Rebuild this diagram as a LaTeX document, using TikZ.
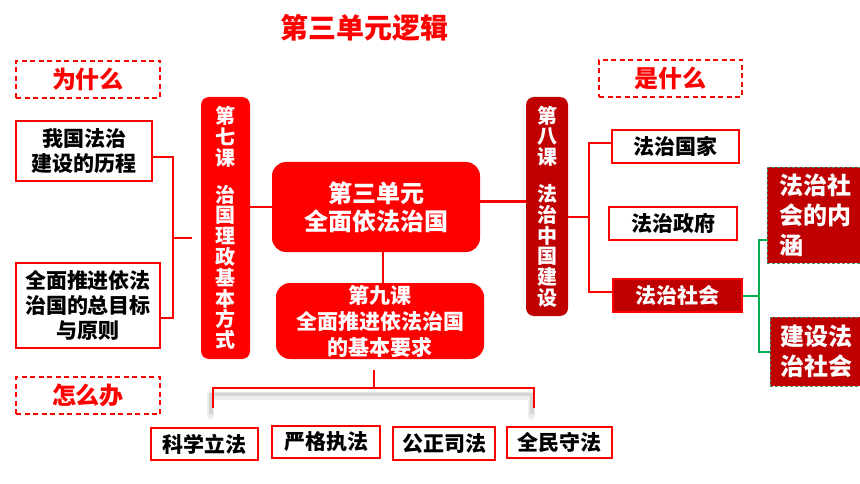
\documentclass[tikz,border=0pt]{standalone}
\usepackage{fontspec}
\newfontfamily\cjk[BoldFont={Noto Sans CJK SC Black}]{Noto Sans CJK SC}
\usetikzlibrary{positioning}
\definecolor{hong}{HTML}{FF0000}
\definecolor{shenhong}{HTML}{C00000}
\definecolor{lv}{HTML}{00B050}
\tikzset{
  kuang/.style={draw=hong, line width=2pt, fill=white, inner sep=0pt, align=center,
    font=\cjk\bfseries\fontsize{21}{25}\selectfont},
  xuxian/.style={draw=hong, line width=2pt, dash pattern=on 5pt off 3.5pt, inner sep=0pt,
    text=hong, font=\cjk\bfseries\fontsize{24}{28}\selectfont},
  ke/.style={fill=hong, rounded corners=8pt, inner sep=0pt, text=white, align=center,
    font=\cjk\bfseries\fontsize{20}{20.8}\selectfont},
  dan/.style={fill=hong, rounded corners=14pt, inner sep=0pt, text=white, align=center},
  xian/.style={draw=hong, line width=2.5pt},
  lvxian/.style={draw=lv, line width=2pt},
  nei/.style={fill=shenhong, draw=lv!40!gray, densely dashed, line width=0.6pt, inner sep=0pt,
    text=white, align=left, font=\cjk\bfseries\fontsize{24}{30}\selectfont}
}

\begin{document}
\begin{tikzpicture}[x=1pt,y=-1pt]
    \fill[white] (0,0) rectangle (860,484);
    \useasboundingbox (0,0) rectangle (860,484);

    \node[text=hong, font=\cjk\bfseries\fontsize{28}{30}\selectfont] (biaoti) at (364,28) {第三单元逻辑};
    \node[xuxian, minimum width=144pt, minimum height=37pt] (weishenme) at (88,79.5) {为什么};
    \node[xuxian, minimum width=143pt, minimum height=37pt] (shishenme) at (670.5,78.5) {是什么};
    \node[xuxian, minimum width=144pt, minimum height=37pt] (zenmeban) at (88,395.5) {怎么办};

    \node[kuang, minimum width=136pt, minimum height=60pt] (licheng) at (84,151) {我国法治\\建设的历程};
    \node[kuang, minimum width=144pt, minimum height=85pt] (mubiao) at (88,305.5) {全面推进依法\\治国的总目标\\与原则};

    \node[ke, minimum width=49pt, minimum height=262pt] (keqi) at (225.5,228)
        {第\\七\\课\\[16pt]治\\国\\理\\政\\基\\本\\方\\式};
    \node[dan, minimum width=208pt, minimum height=90pt, font=\cjk\bfseries\fontsize{24}{28}\selectfont]
        (danyuan) at (376,207) {第三单元\\全面依法治国};
    \node[dan, minimum width=208pt, minimum height=76pt, font=\cjk\bfseries\fontsize{21}{26}\selectfont]
        (kejiu) at (380,321) {第九课\\全面推进依法治国\\的基本要求};
    \node[ke, fill=shenhong, minimum width=42pt, minimum height=219pt] (keba) at (547,206.5)
        {第\\八\\课\\[16pt]法\\治\\中\\国\\建\\设};

    \node[kuang, minimum width=127pt, minimum height=33pt] (guojia) at (675.5,146.5) {法治国家};
    \node[kuang, minimum width=128pt, minimum height=33pt] (zhengfu) at (673,223.5) {法治政府};
    \node[kuang, fill=shenhong, text=white, minimum width=129pt, minimum height=33pt] (shehui) at (677.5,295.5) {法治社会};
    \node[nei, minimum width=96pt, minimum height=96pt] (neihan) at (815,215) {法治社\\会的内\\涵};
    \node[nei, align=center, minimum width=92pt, minimum height=69pt] (jianshe) at (816,351.5) {建设法\\治社会};

    \node[kuang, minimum width=107pt, minimum height=32pt] (lifa) at (204.5,444) {科学立法};
    \node[kuang, minimum width=108pt, minimum height=32pt] (zhifa) at (326,442) {严格执法};
    \node[kuang, minimum width=102pt, minimum height=33pt] (sifa) at (444,443.5) {公正司法};
    \node[kuang, minimum width=105pt, minimum height=31pt] (shoufa) at (559.5,442.5) {全民守法};

    \coordinate (zuo) at (173,238);
    \coordinate (zuomo) at (192,238);
    \coordinate (you) at (589,217);
    \coordinate (lvzhong) at (759,295.5);
    \coordinate (xiading) at (374,370);
    \coordinate (xiazhong) at (374,388);
    \coordinate (xiazuo) at (213,408);
    \coordinate (xiayou) at (534,408);

    \draw[xian] ([yshift=-6pt]licheng.east) -| (zuo) |- ([yshift=-12.5pt]mubiao.east);
    \draw[xian] (zuo) -- (zuomo);
    \draw[xian] (keqi.east |- danyuan.west) -- (danyuan.west);
    \draw[xian] ([yshift=5.5pt]danyuan.east) -- ([yshift=5.5pt]danyuan.east -| keba.west);
    \draw[xian] ([xshift=7pt]danyuan.south) -- ([xshift=7pt]danyuan.south |- kejiu.north);

    \draw[line width=7pt, black, opacity=0.07, line cap=round]
        ([shift={(-3,8)}]xiazuo) |- ([shift={(-3,8)}]xiazhong) -| ([shift={(-3,8)}]xiayou);
    \draw[line width=3.5pt, black, opacity=0.1]
        ([shift={(-2,6)}]xiazuo) |- ([shift={(-2,6)}]xiazhong) -| ([shift={(-2,6)}]xiayou);
    \draw[xian] (xiading) -- (xiazhong);
    \draw[xian] (xiazuo) |- (xiazhong) -| (xiayou);

    \draw[xian] (keba.east |- you) -- (you);
    \draw[xian] ([yshift=3.5pt]guojia.west) -| (you) |- ([yshift=3.5pt]shehui.west);

    \draw[lvxian] (shehui.east) -- (lvzhong);
    \draw[lvxian] ([yshift=-25pt]neihan.west) -| (lvzhong) |- (jianshe.west);
\end{tikzpicture}
\end{document}
